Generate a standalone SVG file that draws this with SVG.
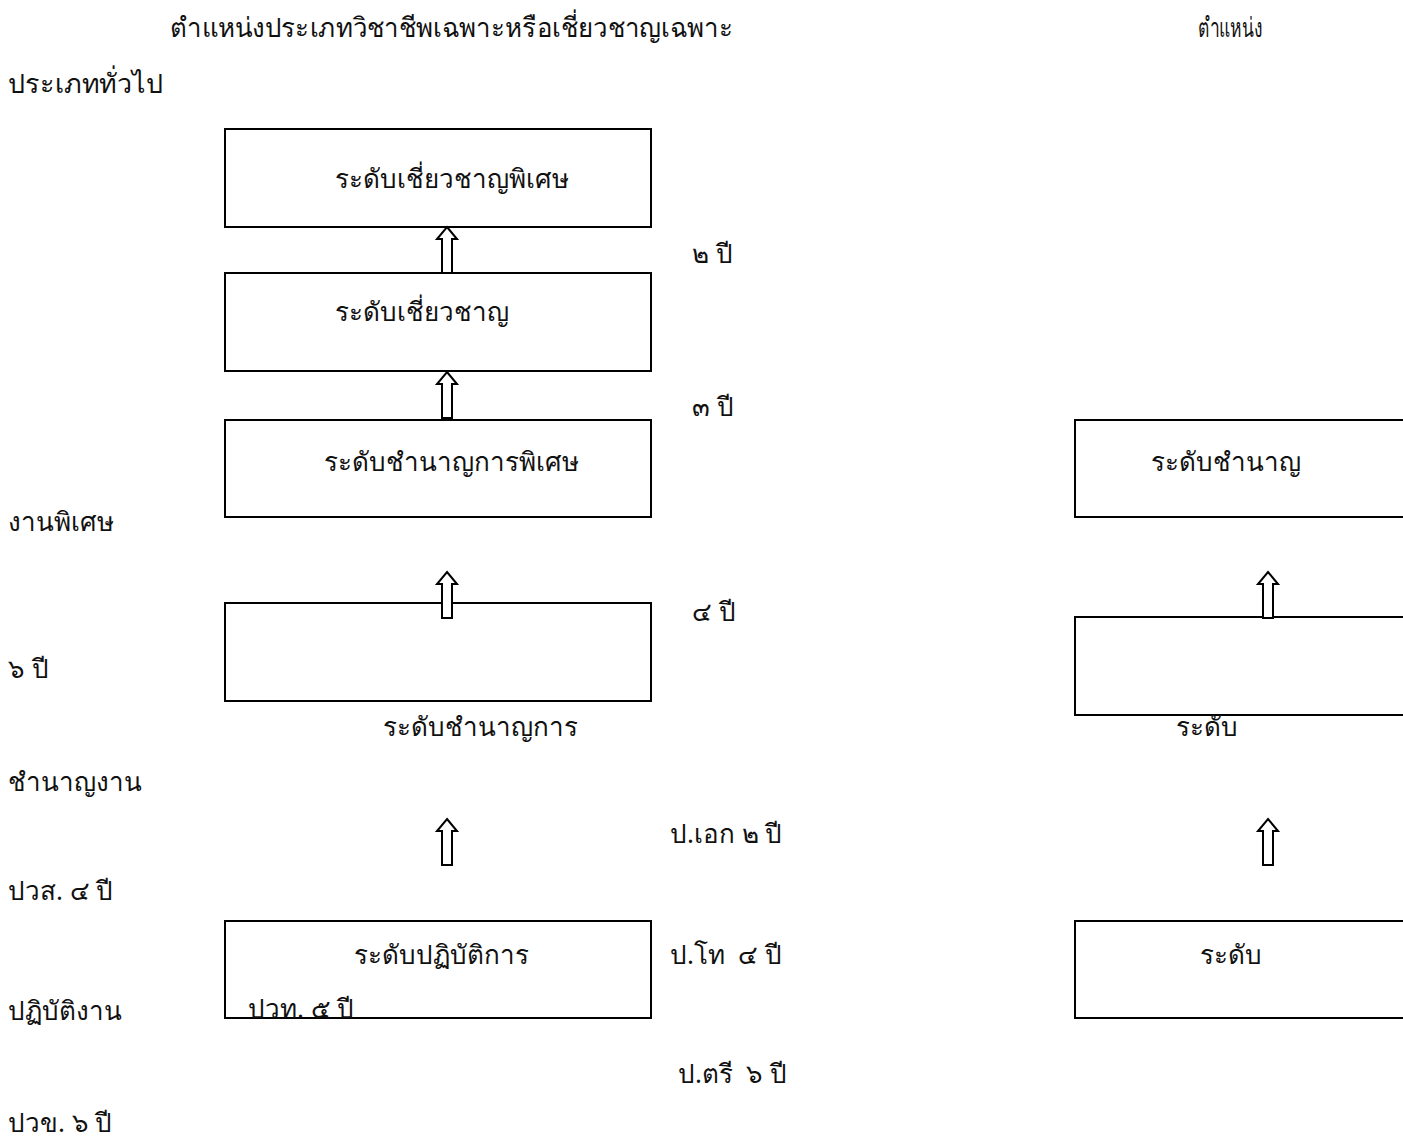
<svg xmlns="http://www.w3.org/2000/svg" width="1403" height="1138" viewBox="0 0 1403 1138">
  <style>
    .box { fill: #ffffff; stroke: #000000; stroke-width: 2; }
    .lbl { font-family: "Noto Sans", "DejaVu Sans", sans-serif; font-size: 26px; fill: #111111; white-space: pre; }
    .ttl { font-family: "Noto Sans", "DejaVu Sans", sans-serif; font-size: 27px; fill: #111111; }
    .arrow { fill: #ffffff; stroke: #000000; stroke-width: 2; stroke-linejoin: miter; }
  </style>
  <defs>
    <!-- hollow block arrow pointing up, tip at origin -->
    <path id="upArrow" d="M0,0 L10,12 L5,12 L5,46 L-5,46 L-5,12 L-10,12 Z"/>
  </defs>
  <rect width="1403" height="1138" fill="#ffffff"/>

  <!-- headings -->
  <text class="ttl" x="170" y="37" textLength="563" lengthAdjust="spacingAndGlyphs">ตำแหน่งประเภทวิชาชีพเฉพาะหรือเชี่ยวชาญเฉพาะ</text>
  <text class="ttl" x="1198" y="37" textLength="64" lengthAdjust="spacingAndGlyphs">ตำแหน่ง</text>
  <text class="ttl" x="8" y="93" textLength="155" lengthAdjust="spacingAndGlyphs">ประเภททั่วไป</text>

  <!-- left column: professional / expert track -->
  <g id="node-expert-special">
    <rect class="box" x="225" y="129" width="426" height="98"/>
    <text class="lbl" x="335" y="188">ระดับเชี่ยวชาญพิเศษ</text>
  </g>
  <g id="node-expert">
    <rect class="box" x="225" y="273" width="426" height="98"/>
    <text class="lbl" x="335" y="321">ระดับเชี่ยวชาญ</text>
  </g>
  <g id="node-senior-professional">
    <rect class="box" x="225" y="420" width="426" height="97"/>
    <text class="lbl" x="324" y="471">ระดับชำนาญการพิเศษ</text>
  </g>
  <g id="node-professional">
    <rect class="box" x="225" y="603" width="426" height="98"/>
    <text class="lbl" x="383" y="736">ระดับชำนาญการ</text>
  </g>
  <g id="node-practitioner">
    <rect class="box" x="225" y="921" width="426" height="97"/>
    <text class="lbl" x="354" y="964">ระดับปฏิบัติการ</text>
  </g>

  <!-- right column: general track -->
  <g id="node-senior">
    <rect class="box" x="1075" y="420" width="340" height="97"/>
    <text class="lbl" x="1151" y="471">ระดับชำนาญ</text>
  </g>
  <g id="node-experienced">
    <rect class="box" x="1075" y="617" width="340" height="98"/>
    <text class="lbl" x="1176" y="736">ระดับ</text>
  </g>
  <g id="node-operational">
    <rect class="box" x="1075" y="921" width="340" height="97"/>
    <text class="lbl" x="1200" y="964">ระดับ</text>
  </g>

  <!-- connectors -->
  <g id="connectors">
    <use href="#upArrow" class="arrow" x="447" y="227"/>
    <use href="#upArrow" class="arrow" x="447" y="372"/>
    <use href="#upArrow" class="arrow" x="447" y="572"/>
    <use href="#upArrow" class="arrow" x="447" y="819"/>
    <use href="#upArrow" class="arrow" x="1268" y="572"/>
    <use href="#upArrow" class="arrow" x="1268" y="819"/>
  </g>

  <!-- period labels -->
  <text class="lbl" x="692" y="263">๒ ปี</text>
  <text class="lbl" x="692" y="416">๓ ปี</text>
  <text class="lbl" x="692" y="621">๔ ปี</text>
  <text class="lbl" x="670" y="843">ป.เอก ๒ ปี</text>
  <text class="lbl" x="670" y="964">ป.โท  ๔ ปี</text>
  <text class="lbl" x="678" y="1083">ป.ตรี  ๖ ปี</text>

  <text class="lbl" x="8" y="531">งานพิเศษ</text>
  <text class="lbl" x="8" y="678">๖ ปี</text>
  <text class="lbl" x="8" y="791">ชำนาญงาน</text>
  <text class="lbl" x="8" y="900">ปวส. ๔ ปี</text>
  <text class="lbl" x="8" y="1020">ปฏิบัติงาน</text>
  <text class="lbl" x="248" y="1018">ปวท. ๕ ปี</text>
  <text class="lbl" x="8" y="1132">ปวข. ๖ ปี</text>
</svg>
